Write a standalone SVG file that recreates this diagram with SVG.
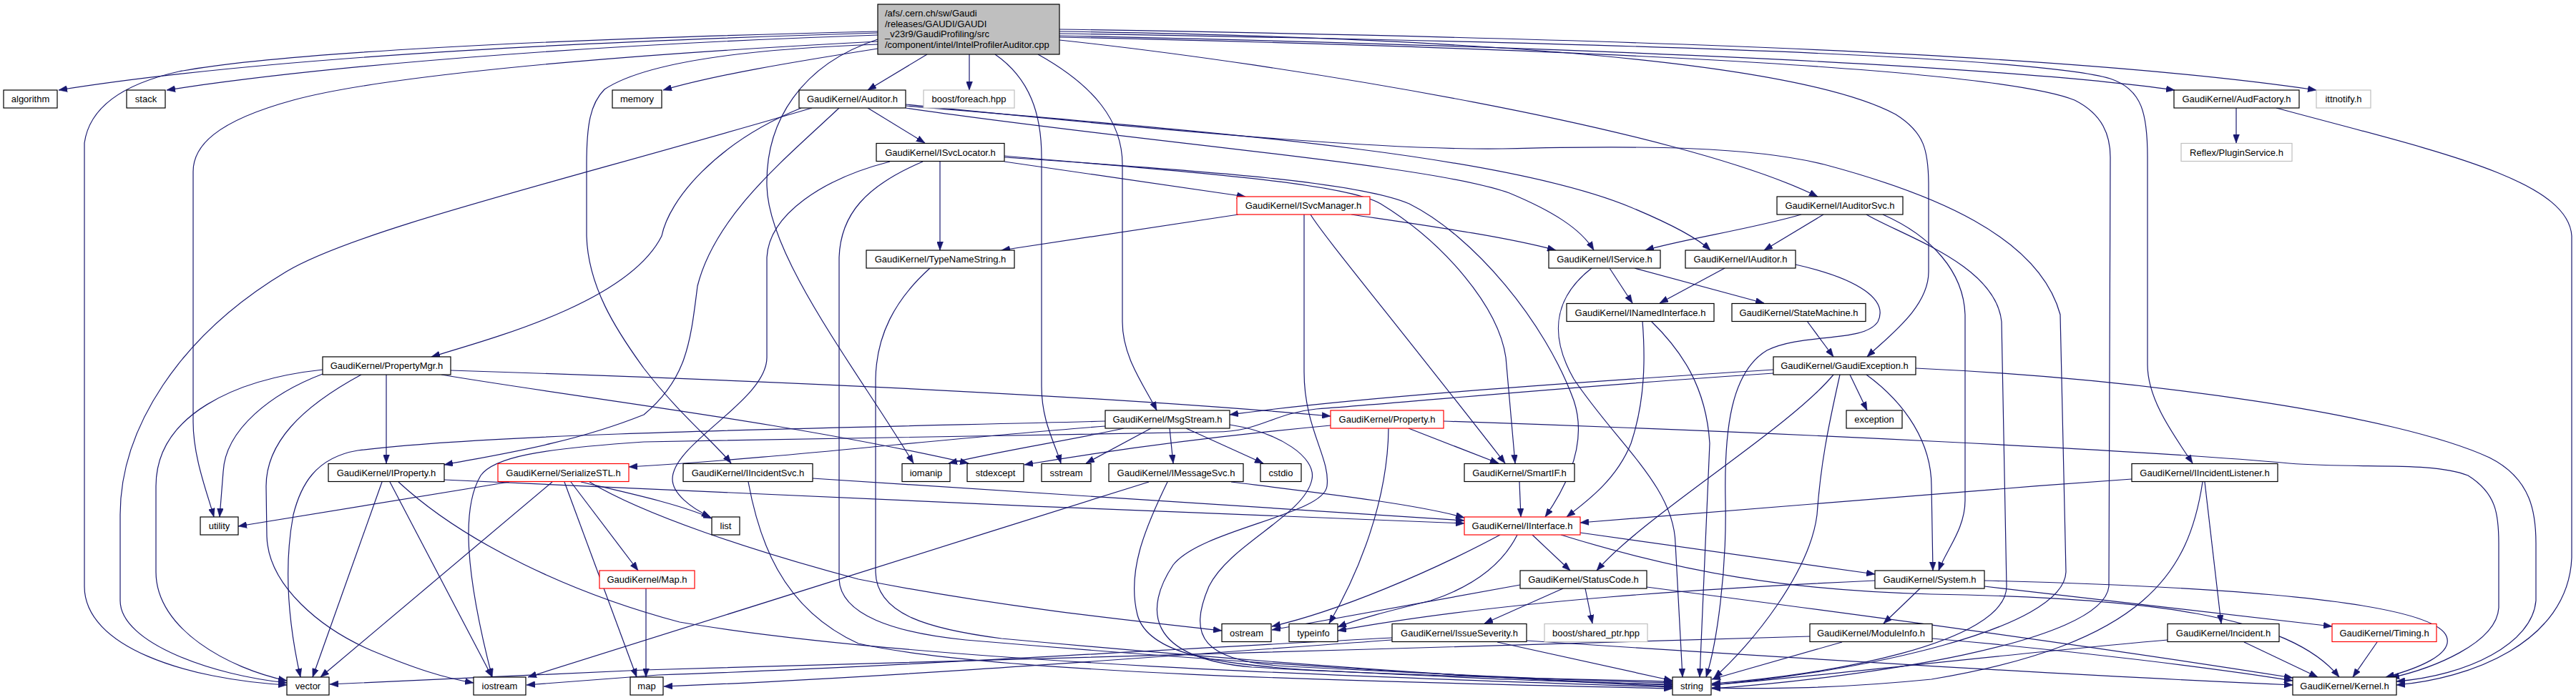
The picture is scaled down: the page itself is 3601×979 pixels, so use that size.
<svg xmlns="http://www.w3.org/2000/svg" width="3601" height="979" viewBox="0 0 3601 979">
<defs>
<marker id="ah" viewBox="0 0 12 9" refX="12" refY="4.5" markerWidth="12" markerHeight="9" markerUnits="userSpaceOnUse" orient="auto" preserveAspectRatio="none"><path d="M0,0 L12,4.5 L0,9 z" fill="#191970" stroke="#191970" stroke-width="0.5"/></marker>
</defs>
<style>
.n rect{fill:#ffffff;stroke:#000000;stroke-width:1.2}
.n.r rect{stroke:#ff0000}
.n.g rect{stroke:#bfbfbf}
.n.root rect{fill:#bfbfbf}
.n text{font-family:"Liberation Sans",Arial,Helvetica,sans-serif;font-size:13px;text-anchor:middle;fill:#000000}
.n.root text{text-anchor:start}
#edges path{fill:none;stroke:#191970;stroke-width:1.2;marker-end:url(#ah)}
</style>
<rect x="0" y="0" width="3601" height="979" fill="#ffffff"/>
<g id="edges">
<path d="M1227,46 C900,56 400,75 82,126"/>
<path d="M1227,49 C900,60 500,85 233,126"/>
<path d="M1227,44 C750,55 380,75 250,100 C170,118 125,150 118,200 L118,820 C118,905 260,950 401,958"/>
<path d="M1227,58 C800,80 520,110 410,140 C300,170 270,205 270,240 L270,590 C270,640 290,690 299,723"/>
<path d="M1227,62 C1000,70 890,95 845,125 C825,145 820,175 820,230 L820,330 C822,400 860,460 900,515 C950,580 1000,620 1022,648"/>
<path d="M1227,68 C1100,88 1000,105 927,126"/>
<path d="M1227,55 C1120,90 1070,170 1072,260 C1074,360 1200,520 1277,648"/>
<path d="M1296,76 L1213,126"/>
<path d="M1355,76 L1355,126"/>
<path d="M1391,76 C1440,110 1456,160 1456,220 L1456,540 C1456,590 1475,620 1483,648"/>
<path d="M1451,76 C1530,120 1569,170 1569,230 L1569,450 C1569,500 1600,540 1617,574"/>
<path d="M1481,56 C1800,90 2350,180 2541,275"/>
<path d="M1481,44 C2000,52 2500,80 2650,160 C2690,185 2696,210 2696,260 L2696,380 C2696,430 2640,470 2610,499"/>
<path d="M1481,50 C2200,65 2800,92 3040,126"/>
<path d="M1481,41 C2300,54 2900,76 3238,126"/>
<path d="M1481,47 C2300,60 2850,80 2950,110 C2995,125 3002,160 3002,220 L3002,510 C3002,560 3040,610 3065,648"/>
<path d="M1481,52 C2300,70 2800,100 2900,140 C2940,160 2950,190 2950,220 L2948,820 C2940,900 2600,948 2393,963"/>
<path d="M1213,151 L1293,200"/>
<path d="M1120,151 C1000,200 935,280 925,330 C880,420 700,470 603,499"/>
<path d="M1173,151 C1100,220 1000,300 975,400 C965,480 960,530 900,580 C800,620 700,635 621,650"/>
<path d="M1135,151 C800,250 500,320 400,380 C250,470 168,600 168,720 L168,840 C168,900 300,945 401,955"/>
<path d="M1266,151 C1600,200 2000,230 2110,270 C2170,295 2210,320 2228,350"/>
<path d="M1266,148 C1700,185 2100,215 2280,290 C2340,315 2375,335 2391,350"/>
<path d="M1266,146 C1700,190 1950,210 2100,208 C2300,203 2450,205 2550,230 C2700,270 2850,330 2880,440 L2888,800 C2885,880 2600,940 2393,958"/>
<path d="M3126,151 L3126,200"/>
<path d="M3182,151 C3400,210 3590,250 3595,330 L3595,780 C3590,900 3450,950 3350,958"/>
<path d="M1244,226 C1150,250 1075,300 1072,360 L1072,500 C1072,560 940,620 940,670 C940,690 965,710 993,723"/>
<path d="M1290,226 C1210,260 1175,300 1173,360 L1173,810 C1175,860 1250,885 1350,895 C1700,925 2100,950 2338,958"/>
<path d="M1314,226 L1314,350"/>
<path d="M1404,226 L1741,275"/>
<path d="M1404,218 C1650,240 1880,255 1930,285 C2020,340 2095,430 2105,500 L2118,648"/>
<path d="M1404,220 C1700,240 1900,255 1970,285 C2060,330 2160,450 2200,560 C2220,620 2190,680 2160,723"/>
<path d="M1731,300 L1400,350"/>
<path d="M1889,300 C1990,315 2100,330 2175,350"/>
<path d="M1832,300 C1850,330 1950,450 2104,648"/>
<path d="M1823,300 L1823,520 C1823,600 1860,640 1855,680 C1850,720 1680,740 1640,790 C1600,850 1600,920 1750,933 C1950,945 2200,950 2338,953"/>
<path d="M2518,300 C2450,320 2350,335 2300,350"/>
<path d="M2549,300 L2466,350"/>
<path d="M2632,300 C2700,330 2745,380 2747,440 L2747,700 C2747,740 2720,770 2710,798"/>
<path d="M2609,300 C2660,330 2790,370 2798,450 L2805,820 C2805,900 2550,945 2393,956"/>
<path d="M1300,375 C1250,420 1225,470 1224,530 L1224,800 C1225,860 1300,880 1400,893 C1800,930 2100,950 2338,960"/>
<path d="M2250,375 L2282,424"/>
<path d="M2285,375 L2466,424"/>
<path d="M2225,375 C2180,410 2160,460 2200,530 C2260,620 2340,680 2342,760 L2352,947"/>
<path d="M2411,375 L2320,424"/>
<path d="M2510,370 C2600,390 2640,420 2625,450 C2605,480 2520,465 2470,490 C2420,520 2410,600 2412,700 C2414,800 2400,900 2385,947"/>
<path d="M2296,449 C2300,500 2300,560 2280,620 C2260,670 2220,700 2190,723"/>
<path d="M2308,449 C2350,490 2385,540 2390,620 L2376,947"/>
<path d="M2526,449 L2563,499"/>
<path d="M2563,524 C2500,600 2300,720 2232,798"/>
<path d="M2572,524 C2555,600 2545,650 2540,720 C2530,800 2450,900 2396,948"/>
<path d="M2586,524 L2610,574"/>
<path d="M2609,524 C2665,565 2700,620 2700,680 L2702,798"/>
<path d="M2678,515 C3000,530 3350,580 3480,640 C3540,670 3545,720 3545,760 L3545,840 C3540,900 3450,945 3350,953"/>
<path d="M2479,517 C2200,535 1900,555 1719,580"/>
<path d="M2479,522 C2200,540 2000,560 1840,572 C1780,578 1760,604 1700,604 C1400,608 1100,614 900,618 C750,628 690,640 672,665 C645,710 650,800 688,947"/>
<path d="M1571,599 C1500,615 1400,630 1326,648"/>
<path d="M1609,599 L1518,648"/>
<path d="M1635,599 L1640,648"/>
<path d="M1658,599 L1766,648"/>
<path d="M1719,594 C1790,605 1840,640 1834,670 C1825,720 1720,760 1690,820 C1660,890 1680,925 1800,932 C2000,942 2200,952 2338,955"/>
<path d="M1545,596 C1300,615 1100,640 879,653"/>
<path d="M1545,589 C1200,598 700,605 500,630 C440,640 420,680 410,720 C395,800 405,880 420,947"/>
<path d="M540,524 L540,648"/>
<path d="M630,518 C1000,530 1500,550 1860,582"/>
<path d="M617,524 C800,555 1100,590 1354,648"/>
<path d="M451,517 C330,530 218,580 218,680 L218,800 C218,880 320,935 401,952"/>
<path d="M451,523 C380,550 315,600 312,660 L307,723"/>
<path d="M505,524 C420,570 372,620 372,680 L373,750 C375,820 450,880 520,910 C580,935 620,948 662,955"/>
<path d="M534,674 L437,947"/>
<path d="M545,674 L688,947"/>
<path d="M621,671 C1000,690 1600,715 2047,732"/>
<path d="M557,674 C650,760 800,830 950,870 C1300,930 2000,950 2338,961"/>
<path d="M712,674 L333,736"/>
<path d="M772,674 L448,947"/>
<path d="M798,674 L892,798"/>
<path d="M789,674 L890,947"/>
<path d="M812,674 C880,690 950,705 995,725"/>
<path d="M824,674 C900,720 1050,770 1200,810 C1400,850 1600,870 1708,882"/>
<path d="M1136,669 C1500,690 1800,712 2047,728"/>
<path d="M1046,674 C1060,750 1090,850 1200,900 C1400,945 2000,955 2338,963"/>
<path d="M1721,674 C1850,690 1980,705 2047,724"/>
<path d="M1606,674 C1300,770 950,880 738,947"/>
<path d="M1632,674 C1600,740 1575,800 1590,860 C1605,915 1700,930 1850,938 C2050,948 2200,955 2338,957"/>
<path d="M903,823 L903,947"/>
<path d="M2124,674 L2126,723"/>
<path d="M2980,670 C2700,690 2400,715 2209,731"/>
<path d="M3079,674 C3060,800 3000,900 2700,950 C2550,965 2450,963 2393,962"/>
<path d="M3082,674 L3105,872"/>
<path d="M2142,748 L2195,798"/>
<path d="M2209,745 L2621,803"/>
<path d="M2182,748 C2350,800 2500,826 2700,831 C3000,836 3200,860 3270,947"/>
<path d="M2097,748 C2000,800 1870,855 1778,876"/>
<path d="M2121,748 C2100,790 2060,820 2000,840 C1940,855 1900,865 1870,877"/>
<path d="M2185,823 L2075,872"/>
<path d="M2216,823 L2226,872"/>
<path d="M2302,821 C2600,860 2900,900 3205,948"/>
<path d="M2125,818 C2000,840 1880,862 1778,881"/>
<path d="M2093,898 L2338,952"/>
<path d="M2134,896 C2500,920 2900,945 3205,958"/>
<path d="M1946,895 C1600,920 1200,950 928,960"/>
<path d="M1946,892 C1600,910 1200,935 920,944 L736,958"/>
<path d="M2774,812 C3100,820 3400,840 3420,890 C3430,915 3380,935 3335,947"/>
<path d="M2774,820 L3260,876"/>
<path d="M2684,823 L2633,872"/>
<path d="M2621,812 C2400,822 2100,840 1870,882"/>
<path d="M2575,898 L2393,950"/>
<path d="M2701,893 C2900,910 3100,935 3205,952"/>
<path d="M2530,890 C2000,905 1200,930 900,937 L461,957"/>
<path d="M3137,898 L3240,947"/>
<path d="M3030,895 C2800,915 2550,945 2393,958"/>
<path d="M3323,898 L3289,947"/>
<path d="M1969,599 L2095,648"/>
<path d="M2018,589 C2500,605 3000,630 3200,648 C3300,656 3400,645 3450,665 C3490,690 3493,720 3493,760 L3493,850 C3490,900 3400,935 3342,948"/>
<path d="M1860,595 C1700,610 1550,630 1432,650"/>
<path d="M1941,599 C1940,700 1900,800 1858,872"/>
</g>
<g id="root" class="n root"><rect x="1227" y="6" width="254" height="70"/>
<text x="1237" y="23">/afs/.cern.ch/sw/Gaudi</text>
<text x="1237" y="37.5">/releases/GAUDI/GAUDI</text>
<text x="1237" y="52">_v23r9/GaudiProfiling/src</text>
<text x="1237" y="66.5">/component/intel/IntelProfilerAuditor.cpp</text></g>
<g id="algorithm" class="n"><rect x="5" y="126" width="75" height="25"/><text x="42.5" y="143">algorithm</text></g>
<g id="stack" class="n"><rect x="177" y="126" width="54" height="25"/><text x="204" y="143">stack</text></g>
<g id="memory" class="n"><rect x="856" y="126" width="69" height="25"/><text x="890.5" y="143">memory</text></g>
<g id="Auditor" class="n"><rect x="1117" y="126" width="149" height="25"/><text x="1191.5" y="143">GaudiKernel/Auditor.h</text></g>
<g id="foreach" class="n g"><rect x="1291" y="126" width="127" height="25"/><text x="1354.5" y="143">boost/foreach.hpp</text></g>
<g id="AudFactory" class="n"><rect x="3039" y="126" width="175" height="25"/><text x="3126.5" y="143">GaudiKernel/AudFactory.h</text></g>
<g id="ittnotify" class="n g"><rect x="3238" y="126" width="76" height="25"/><text x="3276" y="143">ittnotify.h</text></g>
<g id="ISvcLocator" class="n"><rect x="1225" y="200.5" width="179" height="25"/><text x="1314.5" y="217.5">GaudiKernel/ISvcLocator.h</text></g>
<g id="PluginService" class="n g"><rect x="3049" y="200.5" width="155" height="25"/><text x="3126.5" y="217.5">Reflex/PluginService.h</text></g>
<g id="ISvcManager" class="n r"><rect x="1729" y="275" width="186" height="25"/><text x="1822" y="292">GaudiKernel/ISvcManager.h</text></g>
<g id="IAuditorSvc" class="n"><rect x="2484" y="275" width="176" height="25"/><text x="2572" y="292">GaudiKernel/IAuditorSvc.h</text></g>
<g id="TypeNameString" class="n"><rect x="1211" y="350" width="207" height="25"/><text x="1314.5" y="367">GaudiKernel/TypeNameString.h</text></g>
<g id="IService" class="n"><rect x="2165" y="350" width="156" height="25"/><text x="2243" y="367">GaudiKernel/IService.h</text></g>
<g id="IAuditor" class="n"><rect x="2356" y="350" width="154" height="25"/><text x="2433" y="367">GaudiKernel/IAuditor.h</text></g>
<g id="INamedInterface" class="n"><rect x="2190" y="424.5" width="206" height="25"/><text x="2293" y="441.5">GaudiKernel/INamedInterface.h</text></g>
<g id="StateMachine" class="n"><rect x="2421" y="424.5" width="187" height="25"/><text x="2514.5" y="441.5">GaudiKernel/StateMachine.h</text></g>
<g id="PropertyMgr" class="n"><rect x="451" y="499" width="179" height="25"/><text x="540.5" y="516">GaudiKernel/PropertyMgr.h</text></g>
<g id="GaudiException" class="n"><rect x="2479" y="499" width="199" height="25"/><text x="2578.5" y="516">GaudiKernel/GaudiException.h</text></g>
<g id="MsgStream" class="n"><rect x="1545" y="574" width="174" height="25"/><text x="1632" y="591">GaudiKernel/MsgStream.h</text></g>
<g id="Property" class="n r"><rect x="1860" y="574" width="158" height="25"/><text x="1939" y="591">GaudiKernel/Property.h</text></g>
<g id="exception" class="n"><rect x="2581" y="574" width="78" height="25"/><text x="2620" y="591">exception</text></g>
<g id="IProperty" class="n"><rect x="459" y="648.5" width="162" height="25"/><text x="540" y="665.5">GaudiKernel/IProperty.h</text></g>
<g id="SerializeSTL" class="n r"><rect x="696" y="648.5" width="183" height="25"/><text x="787.5" y="665.5">GaudiKernel/SerializeSTL.h</text></g>
<g id="IIncidentSvc" class="n"><rect x="955" y="648.5" width="181" height="25"/><text x="1045.5" y="665.5">GaudiKernel/IIncidentSvc.h</text></g>
<g id="iomanip" class="n"><rect x="1261" y="648.5" width="67" height="25"/><text x="1294.5" y="665.5">iomanip</text></g>
<g id="stdexcept" class="n"><rect x="1352" y="648.5" width="79" height="25"/><text x="1391.5" y="665.5">stdexcept</text></g>
<g id="sstream" class="n"><rect x="1456" y="648.5" width="69" height="25"/><text x="1490.5" y="665.5">sstream</text></g>
<g id="IMessageSvc" class="n"><rect x="1550" y="648.5" width="188" height="25"/><text x="1644" y="665.5">GaudiKernel/IMessageSvc.h</text></g>
<g id="cstdio" class="n"><rect x="1762" y="648.5" width="57" height="25"/><text x="1790.5" y="665.5">cstdio</text></g>
<g id="SmartIF" class="n"><rect x="2047" y="648.5" width="154" height="25"/><text x="2124" y="665.5">GaudiKernel/SmartIF.h</text></g>
<g id="IIncidentListener" class="n"><rect x="2980" y="648.5" width="204" height="25"/><text x="3082" y="665.5">GaudiKernel/IIncidentListener.h</text></g>
<g id="utility" class="n"><rect x="280" y="723" width="53" height="25"/><text x="306.5" y="740">utility</text></g>
<g id="list" class="n"><rect x="995" y="723" width="39" height="25"/><text x="1014.5" y="740">list</text></g>
<g id="IInterface" class="n r"><rect x="2047" y="723" width="162" height="25"/><text x="2128" y="740">GaudiKernel/IInterface.h</text></g>
<g id="Map" class="n r"><rect x="838" y="798" width="133" height="25"/><text x="904.5" y="815">GaudiKernel/Map.h</text></g>
<g id="StatusCode" class="n"><rect x="2125" y="798" width="177" height="25"/><text x="2213.5" y="815">GaudiKernel/StatusCode.h</text></g>
<g id="System" class="n"><rect x="2621" y="798" width="153" height="25"/><text x="2697.5" y="815">GaudiKernel/System.h</text></g>
<g id="ostream" class="n"><rect x="1708" y="872.5" width="69" height="25"/><text x="1742.5" y="889.5">ostream</text></g>
<g id="typeinfo" class="n"><rect x="1802" y="872.5" width="68" height="25"/><text x="1836" y="889.5">typeinfo</text></g>
<g id="IssueSeverity" class="n"><rect x="1946" y="872.5" width="188" height="25"/><text x="2040" y="889.5">GaudiKernel/IssueSeverity.h</text></g>
<g id="shared_ptr" class="n g"><rect x="2159" y="872.5" width="144" height="25"/><text x="2231" y="889.5">boost/shared_ptr.hpp</text></g>
<g id="ModuleInfo" class="n"><rect x="2530" y="872.5" width="171" height="25"/><text x="2615.5" y="889.5">GaudiKernel/ModuleInfo.h</text></g>
<g id="Incident" class="n"><rect x="3030" y="872.5" width="156" height="25"/><text x="3108" y="889.5">GaudiKernel/Incident.h</text></g>
<g id="Timing" class="n r"><rect x="3260" y="872.5" width="146" height="25"/><text x="3333" y="889.5">GaudiKernel/Timing.h</text></g>
<g id="vector" class="n"><rect x="401" y="947" width="59" height="25"/><text x="430.5" y="964">vector</text></g>
<g id="iostream" class="n"><rect x="662" y="947" width="73" height="25"/><text x="698.5" y="964">iostream</text></g>
<g id="map" class="n"><rect x="881" y="947" width="46" height="25"/><text x="904" y="964">map</text></g>
<g id="string" class="n"><rect x="2338" y="947" width="54" height="25"/><text x="2365" y="964">string</text></g>
<g id="Kernel" class="n"><rect x="3205" y="947" width="145" height="25"/><text x="3277.5" y="964">GaudiKernel/Kernel.h</text></g>
</svg>
